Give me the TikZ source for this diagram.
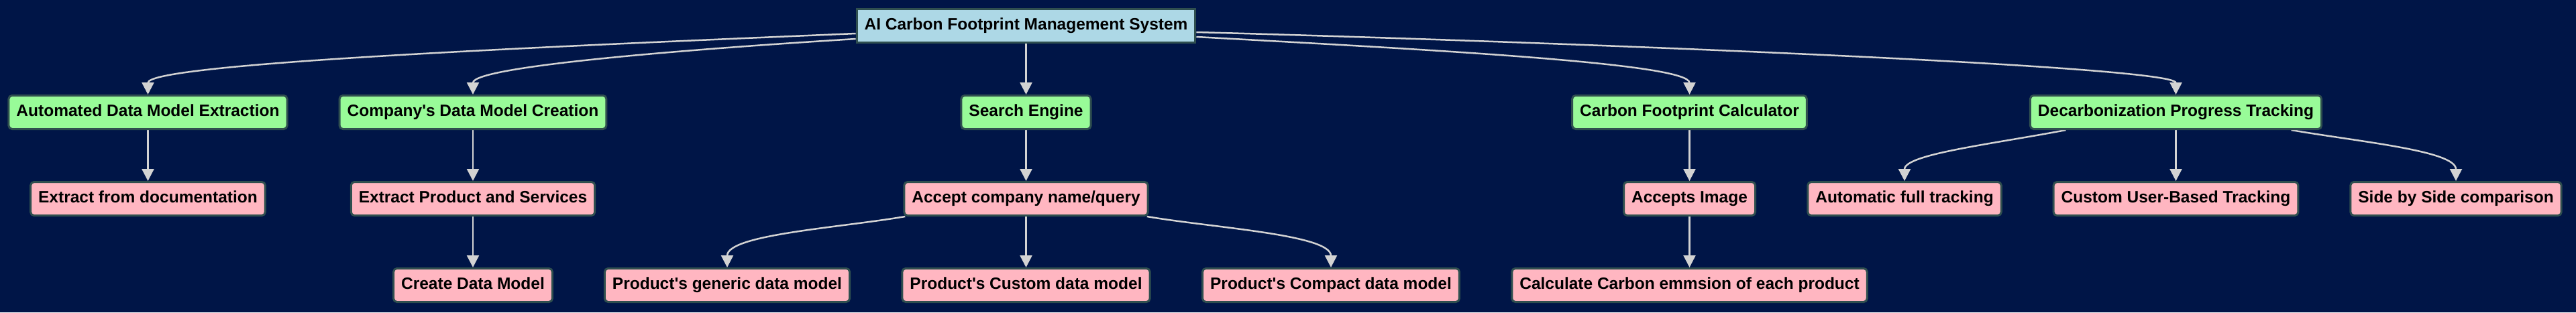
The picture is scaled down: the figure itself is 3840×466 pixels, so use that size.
\documentclass[tikz,border=0pt]{standalone}
\usepackage{fontspec}
\setmainfont{Liberation Sans}
\usetikzlibrary{arrows.meta,calc}
\definecolor{bgc}{HTML}{001547}
\definecolor{rootc}{HTML}{ADD8E6}
\definecolor{greenc}{HTML}{98FB98}
\definecolor{pinkc}{HTML}{FFB6C1}
\definecolor{bordc}{HTML}{2F4F4F}
\definecolor{edgec}{HTML}{D3D3D3}
\pgfdeclarelayer{bg}
\pgfdeclarelayer{edges}
\pgfsetlayers{bg,edges,main}
\begin{document}
\begin{tikzpicture}[x=1pt,y=-1pt,
  box/.style={draw=bordc, line width=3pt, inner xsep=11.5pt, inner ysep=0pt,
    minimum height=50pt, text height=17.6pt, text depth=5.2pt,
    font=\fontsize{24.5}{29}\selectfont\bfseries, text=black},
  rootbox/.style={box, fill=rootc},
  mainbox/.style={box, fill=greenc, rounded corners=5pt},
  subbox/.style={box, fill=pinkc, rounded corners=5pt},
  link/.style={draw=edgec, line width=2.5pt, -{Triangle[length=18pt,width=18pt]}}
]
\useasboundingbox (0,0) rectangle (3840,466);
\begin{pgfonlayer}{bg}
\fill[bgc] (0,0) rectangle (3840,466);
\end{pgfonlayer}

\node[rootbox] (root) at (1529.5,38.5) {AI Carbon Footprint Management System};

\node[mainbox] (auto) at (220.5,167.5) {Automated Data Model Extraction};
\node[mainbox] (comp) at (705,167.5) {Company\textquotesingle s Data Model Creation};
\node[mainbox] (search) at (1529.5,167.5) {Search Engine};
\node[mainbox] (cfc) at (2518.5,167.5) {Carbon Footprint Calculator};
\node[mainbox] (decarb) at (3243.5,167.5) {Decarbonization Progress Tracking};

\node[subbox] (doc) at (220.5,296.5) {Extract from documentation};
\node[subbox] (eps) at (705,296.5) {Extract Product and Services};
\node[subbox] (accept) at (1529.5,296.5) {Accept company name/query};
\node[subbox] (img) at (2518.5,296.5) {Accepts Image};
\node[subbox] (autofull) at (2839,296.5) {Automatic full tracking};
\node[subbox] (customub) at (3243.5,296.5) {Custom User-Based Tracking};
\node[subbox] (side) at (3661,296.5) {Side by Side comparison};

\node[subbox] (create) at (705,425.5) {Create Data Model};
\node[subbox] (generic) at (1084,425.5) {Product\textquotesingle s generic data model};
\node[subbox] (custom) at (1529.5,425.5) {Product\textquotesingle s Custom data model};
\node[subbox] (compact) at (1984,425.5) {Product\textquotesingle s Compact data model};
\node[subbox] (calc) at (2518.5,425.5) {Calculate Carbon emmsion of each product};

\begin{pgfonlayer}{edges}
\draw[link] ($(root.west)+(0,11.5)$) .. controls (800,70) and ($(auto.north)+(0,-46)$) .. (auto.north);
\draw[link] ($(root.west)+(0,19.5)$) .. controls (1050,72) and ($(comp.north)+(0,-43)$) .. (comp.north);
\draw[link] (root.south) -- (search.north);
\draw[link] ($(root.east)+(0,16.5)$) .. controls (2150,75) and ($(cfc.north)+(0,-46)$) .. (cfc.north);
\draw[link] ($(root.east)+(0,9.5)$) .. controls (2300,62) and ($(decarb.north)+(0,-43)$) .. (decarb.north);

\draw[link] (auto.south) -- (doc.north);
\draw[link] (comp.south) -- (eps.north);
\draw[link] (eps.south) -- (create.north);
\draw[link] (search.south) -- (accept.north);
\draw[link] (cfc.south) -- (img.north);
\draw[link] (img.south) -- (calc.north);

\draw[link] ($(accept.south west)+(3,0)$) .. controls (1250,340) and ($(generic.north)+(0,-49)$) .. (generic.north);
\draw[link] (accept.south) -- (custom.north);
\draw[link] ($(accept.south east)+(-3,0)$) .. controls (1809,340) and ($(compact.north)+(0,-49)$) .. (compact.north);

\draw[link] ($(decarb.south)+(-164,0)$) .. controls (2970,215) and ($(autofull.north)+(0,-40)$) .. (autofull.north);
\draw[link] (decarb.south) -- (customub.north);
\draw[link] ($(decarb.south)+(172,0)$) .. controls (3520,212) and ($(side.north)+(0,-45)$) .. (side.north);
\end{pgfonlayer}
\end{tikzpicture}
\end{document}
